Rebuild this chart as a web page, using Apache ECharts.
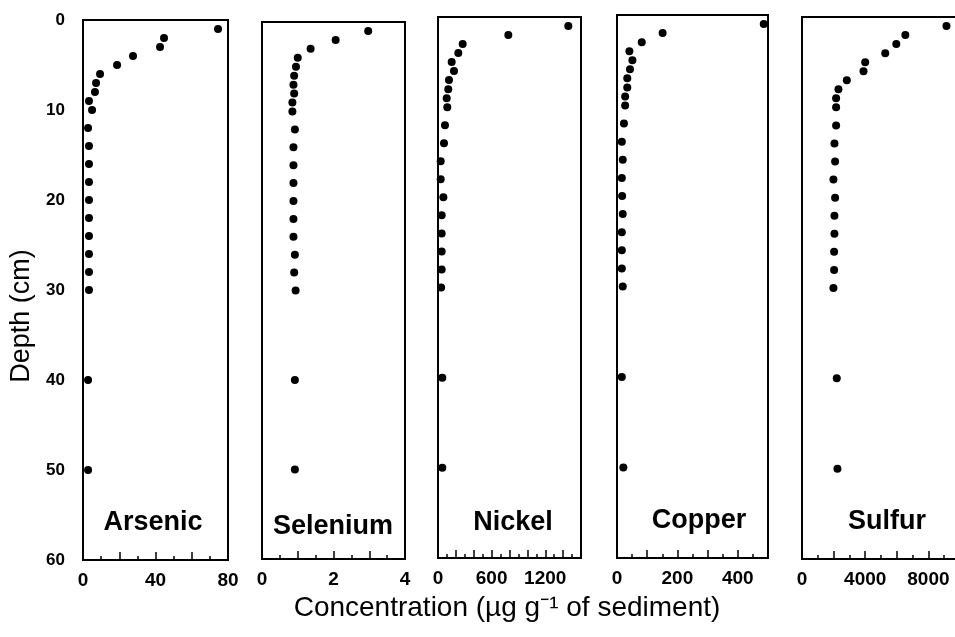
<!DOCTYPE html>
<html><head><meta charset="utf-8">
<script src="https://cdn.jsdelivr.net/npm/echarts@6/dist/echarts.min.js"></script>
<style>html,body{margin:0;padding:0;background:#fff}#c{width:955px;height:637px}</style>
</head><body><div id="c"></div>
<script>
// ---- data ----
const depths   = [1,2,3,4,5,6,7,8,9,10,12,14,16,18,20,22,24,26,28,30,40,50];
const arsenic  = [74.5,44.7,42.5,27.6,18.8,9.4,7.2,6.6,3.3,5.0,2.8,3.3,3.3,3.3,3.3,3.3,3.3,3.3,3.3,3.3,2.8,2.8];
const selenium = [2.97,2.06,1.36,1.0,0.95,0.9,0.88,0.9,0.85,0.85,0.92,0.88,0.88,0.88,0.88,0.88,0.88,0.92,0.9,0.94,0.92,0.92];
const nickel   = [1458,787,276,227,153,179,123,115,97,104,78,67,30,30,60,41,41,41,41,35,48,48];
const copper   = [486,151,82,41,51,43,34,34,27,27,23,16,19,16,17,19,16,16,16,19,16,21];
const sulfur   = [9143,6540,5968,5270,4000,3894,2836,2306,2159,2159,2159,2053,2095,1989,2095,2053,2053,2032,2032,1989,2200,2243];
const elementNames = ['Arsenic','Selenium','Nickel','Copper','Sulfur'];
const xMax       = [80, 4, 1600, 500, 10000];
const xInterval  = [20, 1, 200, 100, 2000];
const xLabelStep = [40, 2, 600, 200, 4000];
const xLabelMax  = [80, 4, 1200, 400, 8000];
const depthMax = 60, depthStep = 10;
const yTitle = 'Depth (cm)';
const xTitle = 'Concentration (µg g⁻¹ of sediment)';

// ---- layout ----
const FONT = '"Liberation Sans", Arial, Helvetica, sans-serif';
const boxes = [
  {left:83,  right:228, top:20, bottom:560, lx:153, ly:523},
  {left:262, right:405, top:22, bottom:559, lx:333, ly:527},
  {left:438, right:581, top:17, bottom:558, lx:513, ly:523},
  {left:617, right:768, top:15, bottom:558, lx:699, ly:521},
  {left:802, right:960, top:17, bottom:559, lx:887, ly:522}
];
const valuesList = [arsenic, selenium, nickel, copper, sulfur];

const grid = [], xAxis = [], yAxis = [], ser = [], graphic = [];
boxes.forEach((b, i) => {
  grid.push({left:b.left, top:b.top, width:b.right-b.left, height:b.bottom-b.top,
    show:true, borderColor:'#000', borderWidth:2, backgroundColor:'transparent',
    containLabel:false, outerBoundsMode:'none'});
  const step = xLabelStep[i], lmax = xLabelMax[i];
  xAxis.push({type:'value', gridIndex:i, min:0, max:xMax[i], interval:xInterval[i], position:'bottom',
    axisLine:{show:true, onZero:false, lineStyle:{color:'#000', width:2}},
    axisTick:{show:true, inside:true, length:8, lineStyle:{color:'#000', width:1.5}},
    minorTick:{show:true, splitNumber:2, length:4, lineStyle:{color:'#000', width:1.5}},
    splitLine:{show:false}, minorSplitLine:{show:false},
    axisLabel:{show:true, margin:11, color:'#000', fontSize:19, fontWeight:'bold', fontFamily:FONT,
      showMinLabel:true, showMaxLabel:true, hideOverlap:false,
      formatter:v => (Math.abs(v/step - Math.round(v/step)) < 1e-9 && v <= lmax + 1e-9) ? String(v) : ''}});
  yAxis.push({type:'value', gridIndex:i, inverse:true, min:0, max:depthMax, interval:depthStep,
    axisLine:{show:true, onZero:false, lineStyle:{color:'#000', width:2}},
    axisTick:{show:false}, splitLine:{show:false},
    axisLabel:{show:i===0, margin:18, color:'#000', fontSize:17, fontWeight:'bold', fontFamily:FONT}});
  ser.push({type:'scatter', xAxisIndex:i, yAxisIndex:i, symbol:'circle', symbolSize:8, clip:false,
    itemStyle:{color:'#000', opacity:1}, silent:true,
    data: depths.map((d, k) => [valuesList[i][k], d])});
  graphic.push({type:'text', x:b.lx, y:b.ly, silent:true,
    style:{text:elementNames[i], fill:'#000', fontSize:27, fontWeight:'bold', fontFamily:FONT,
      align:'center', verticalAlign:'middle'}});
});
graphic.push({type:'text', x:507, y:608, silent:true,
  style:{text:xTitle, fill:'#000', fontSize:28, fontFamily:FONT, align:'center', verticalAlign:'middle'}});
graphic.push({type:'text', x:22, y:316, rotation:Math.PI/2, silent:true,
  style:{text:yTitle, fill:'#000', fontSize:27, fontFamily:FONT, align:'center', verticalAlign:'middle'}});

const chart = echarts.init(document.getElementById('c'), null, {renderer:'canvas'});
chart.setOption({animation:false, backgroundColor:'#fff', grid, xAxis, yAxis, series:ser, graphic});
</script>
</body></html>
